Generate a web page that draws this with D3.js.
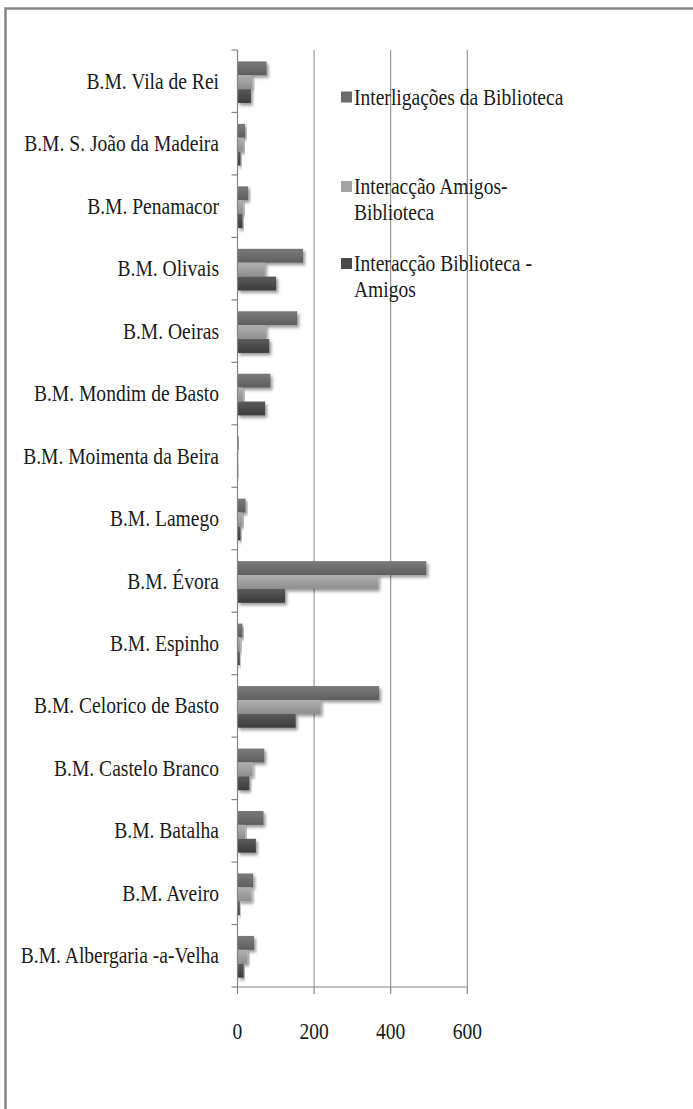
<!DOCTYPE html>
<html>
<head>
<meta charset="utf-8">
<script src="https://cdn.jsdelivr.net/npm/d3@7"></script>
<style>
  body { margin: 0; background: #fff; }
</style>
</head>
<body>
<script>
// categories from top to bottom
var libraries = ["B.M. Vila de Rei", "B.M. S. João da Madeira", "B.M. Penamacor", "B.M. Olivais",
  "B.M. Oeiras", "B.M. Mondim de Basto", "B.M. Moimenta da Beira", "B.M. Lamego", "B.M. Évora",
  "B.M. Espinho", "B.M. Celorico de Basto", "B.M. Castelo Branco", "B.M. Batalha", "B.M. Aveiro",
  "B.M. Albergaria -a-Velha"];
var seriesNames = ["Interligações da Biblioteca", "Interacção Amigos-Biblioteca", "Interacção Biblioteca -Amigos"];
var interligacoes = [76, 20, 28, 171, 156, 86, 3, 21, 493, 13, 370, 70, 68, 41, 43];
var amigosBiblioteca = [38, 16, 15, 72, 74, 15, 2, 13, 367, 8, 217, 39, 20, 36, 26];
var bibliotecaAmigos = [35, 8, 13, 101, 83, 72, 2, 8, 124, 6, 152, 31, 48, 6, 16];
var xTicks = [0, 200, 400, 600];

var FONT = "'Liberation Serif', 'Times New Roman', 'DejaVu Serif', serif";

function init(){
    var w = 693, h = 1109;
    var values = [interligacoes, amigosBiblioteca, bibliotecaAmigos];
    // gradient stops per series (top, bottom)
    var colors = [["#7a7a7a", "#5e5e5e"], ["#b0b0b0", "#8e8e8e"], ["#5a5a5a", "#3c3c3c"]];
    var legendColors = ["#6b6b6b", "#a3a3a3", "#4b4b4b"];

    var svg = d3.select("body").append("svg")
        .attr("width", w).attr("height", h)
        .attr("font-family", FONT);

    var defs = svg.append("defs");
    colors.forEach(function(c, i){
        var g = defs.append("linearGradient").attr("id", "grad" + i)
            .attr("x1", 0).attr("y1", 0).attr("x2", 0).attr("y2", 1);
        g.append("stop").attr("offset", "0%").attr("stop-color", c[0]);
        g.append("stop").attr("offset", "100%").attr("stop-color", c[1]);
    });
    var f = defs.append("filter").attr("id", "shadow")
        .attr("x", "-10%").attr("y", "-30%").attr("width", "130%").attr("height", "180%");
    f.append("feDropShadow").attr("dx", 2).attr("dy", 2.5).attr("stdDeviation", 1.8)
        .attr("flood-color", "#000").attr("flood-opacity", 0.4);

    svg.append("rect").attr("width", w).attr("height", h).attr("fill", "#fff");

    // outer border (only top and left visible)
    svg.append("path").attr("d", "M5.5,1109 V8.5 H693")
        .attr("fill", "none").attr("stroke", "#868686").attr("stroke-width", 2.5);

    var x = d3.scaleLinear().domain([0, 600]).range([237.5, 467.3]);
    var y = d3.scaleBand().domain(libraries).range([50, 987]);
    var y1 = d3.scaleBand().domain(d3.range(3)).range([1, y.bandwidth() + 1]).paddingOuter(0.75);

    // vertical gridlines
    svg.selectAll("line.grid").data(xTicks.slice(1)).enter().append("line")
        .attr("class", "grid")
        .attr("x1", function(d){ return x(d); }).attr("x2", function(d){ return x(d); })
        .attr("y1", 50).attr("y2", 987)
        .attr("stroke", "#868686").attr("stroke-width", 1);

    // bars
    var groups = svg.selectAll("g.lib").data(libraries).enter().append("g")
        .attr("class", "lib")
        .attr("transform", function(d){ return "translate(0," + y(d) + ")"; });
    groups.selectAll("rect").data(function(d, i){
            return values.map(function(v, s){ return {s: s, v: v[i]}; });
        }).enter().append("rect")
        .attr("x", x(0))
        .attr("y", function(d){ return y1(d.s); })
        .attr("width", function(d){ return x(d.v) - x(0); })
        .attr("height", y1.bandwidth())
        .attr("fill", function(d){ return "url(#grad" + d.s + ")"; })
        .attr("filter", "url(#shadow)");

    // category axis
    var yAxis = svg.append("g").attr("transform", "translate(" + x(0) + ",0)");
    yAxis.append("line").attr("x1", 0).attr("x2", 0).attr("y1", 50).attr("y2", 987)
        .attr("stroke", "#868686").attr("stroke-width", 1.2);
    var bounds = libraries.map(function(d){ return y(d); }).concat([987]);
    yAxis.selectAll("line.tick").data(bounds).enter().append("line")
        .attr("class", "tick")
        .attr("x1", -6).attr("x2", 0)
        .attr("y1", function(d){ return d; }).attr("y2", function(d){ return d; })
        .attr("stroke", "#868686").attr("stroke-width", 1.2);

    svg.selectAll("text.cat").data(libraries).enter().append("text")
        .attr("class", "cat")
        .attr("transform", function(d){ return "translate(219," + (y(d) + y.bandwidth() / 2) + ") scale(0.85,1)"; })
        .attr("dy", "0.33em")
        .attr("text-anchor", "end")
        .style("font-family", FONT)
        .style("font-size", "23px")
        .style("fill", "#1a1a1a")
        .text(function(d){ return d; });

    // value axis
    var xAxis = svg.append("g");
    xAxis.append("line").attr("x1", x(0)).attr("x2", x(600)).attr("y1", 987).attr("y2", 987)
        .attr("stroke", "#868686").attr("stroke-width", 1.2);
    xAxis.selectAll("line.tick").data(xTicks).enter().append("line")
        .attr("x1", function(d){ return x(d); }).attr("x2", function(d){ return x(d); })
        .attr("y1", 987).attr("y2", 994)
        .attr("stroke", "#868686").attr("stroke-width", 1.2);
    xAxis.selectAll("text").data(xTicks).enter().append("text")
        .attr("transform", function(d){ return "translate(" + x(d) + ",1031) scale(0.85,1)"; })
        .attr("dy", "0.35em")
        .attr("text-anchor", "middle")
        .style("font-family", FONT)
        .style("font-size", "23px")
        .style("fill", "#1a1a1a")
        .text(function(d){ return d; });

    // legend
    var legendLines = [["Interligações da Biblioteca"], ["Interacção Amigos-", "Biblioteca"], ["Interacção Biblioteca -", "Amigos"]];
    var legendY = [97, 186.5, 263.5];
    legendLines.forEach(function(lines, i){
        var g = svg.append("g").attr("transform", "translate(341," + legendY[i] + ")");
        g.append("rect").attr("x", 0).attr("y", -5.5).attr("width", 11).attr("height", 11)
            .attr("fill", legendColors[i]);
        lines.forEach(function(t, k){
            g.append("text")
                .attr("transform", "translate(13," + (k * 26) + ") scale(0.85,1)")
                .attr("dy", "0.33em")
                .style("font-family", FONT)
                .style("font-size", "23px")
                .style("fill", "#1a1a1a")
                .text(t);
        });
    });
}

window.onload = init;
</script>
</body>
</html>
